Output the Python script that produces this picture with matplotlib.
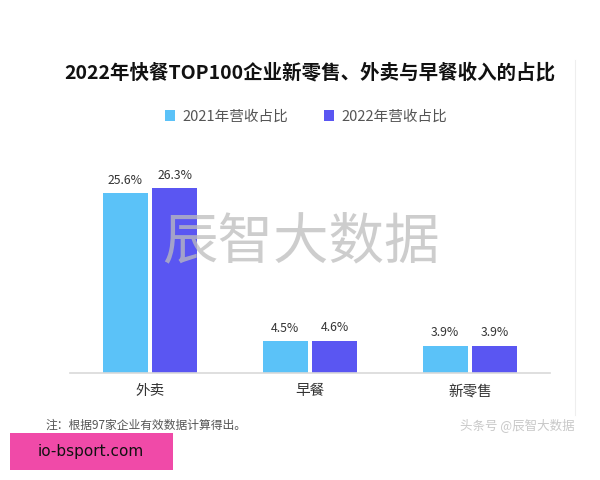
import matplotlib
matplotlib.use("Agg")
import matplotlib.pyplot as plt
from matplotlib.patches import Rectangle
import numpy as np

plt.rcParams['font.family'] = ['Noto Sans CJK SC', 'DejaVu Sans']

categories = ["外卖", "早餐", "新零售"]
series_names = ["2021年营收占比", "2022年营收占比"]
share_2021 = [25.6, 4.5, 3.9]
share_2022 = [26.3, 4.6, 3.9]
colors = ["#5BC2F8", "#5A56F2"]

fig = plt.figure(figsize=(6, 4.8), dpi=100)
ax = fig.add_axes([0.1167, 0.2229, 0.8, 0.4396])

x = np.arange(len(categories))
w = 0.28
off = 0.155
for vals, dx, c, name in [(share_2021, -off, colors[0], series_names[0]),
                          (share_2022, off, colors[1], series_names[1])]:
    bars = ax.bar(x + dx, vals, width=w, color=c, label=name, zorder=2)
    for b, v in zip(bars, vals):
        ax.text(b.get_x() + b.get_width() / 2, v + 0.9, f"{v}%",
                ha="center", va="bottom", fontsize=8.8, color="#333333")

ax.set_xlim(-0.5, 2.5)
ax.set_ylim(0, 30)
ax.set_xticks(x)
ax.set_xticklabels(categories, fontsize=10.5, color="#333333")
ax.tick_params(axis="x", length=0, pad=8)
ax.set_yticks([])
for s in ["top", "right", "left"]:
    ax.spines[s].set_visible(False)
ax.spines["bottom"].set_color("#D9D9D9")
ax.spines["bottom"].set_linewidth(1.2)

# watermark
ax.text(0.48, 0.62, "辰智大数据", transform=ax.transAxes, ha="center",
        va="center", fontsize=40, color="#BDBDBD", alpha=0.75, zorder=3)

fig.text(0.517, 0.848, "2022年快餐TOP100企业新零售、外卖与早餐收入的占比",
         ha="center", va="center", fontsize=14, fontweight="bold",
         color="#111111")

fig.legend(loc="center", bbox_to_anchor=(0.51, 0.757), ncol=2, frameon=False,
           fontsize=10.5, handlelength=0.7, handleheight=0.7,
           columnspacing=2.5, handletextpad=0.5, labelcolor="#555555")

fig.text(0.075, 0.114, "注：根据97家企业有效数据计算得出。", fontsize=8.5,
         color="#555555", va="center")
fig.text(0.958, 0.114, "头条号 @辰智大数据", fontsize=9, color="#C8C8C8",
         va="center", ha="right", style="italic")

# faint right border line
fig.add_artist(plt.Line2D([0.958, 0.958], [0.135, 0.875], color="#EEEEEE",
                          linewidth=0.8))

# pink box
fig.add_artist(Rectangle((0.017, 0.021), 0.272, 0.077, facecolor="#F04AA8",
                         edgecolor="none", transform=fig.transFigure))
fig.text(0.062, 0.06, "io-bsport.com", fontsize=11, color="#111111",
         va="center", family=["DejaVu Sans"])

fig.savefig("out.png", dpi=100)
